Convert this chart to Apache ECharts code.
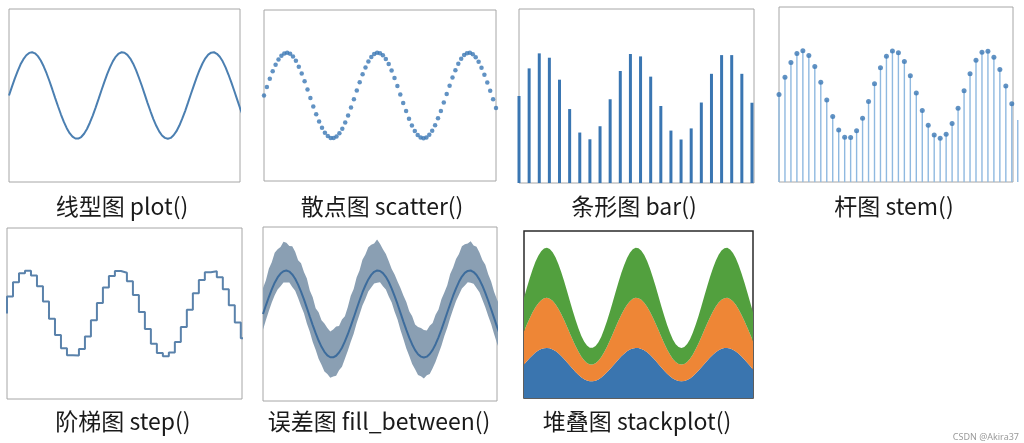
<!DOCTYPE html>
<html>
<head>
<meta charset="utf-8">
<title>常用图表类型</title>
<script src="https://cdn.jsdelivr.net/npm/echarts@6.0.0/dist/echarts.min.js"></script>
<style>
  html, body { margin: 0; padding: 0; background: #fff; }
  #chart { width: 1024px; height: 443px; }
</style>
</head>
<body>
<div id="chart"></div>
<script>
// sine wave sampled every 0.1 (plot / scatter / fill_between / stackplot)
const waveX = [0, 0.1, 0.2, 0.3, 0.4, 0.5, 0.6, 0.7, 0.8, 0.9,
  1.0, 1.1, 1.2, 1.3, 1.4, 1.5, 1.6, 1.7, 1.8, 1.9,
  2.0, 2.1, 2.2, 2.3, 2.4, 2.5, 2.6, 2.7, 2.8, 2.9,
  3.0, 3.1, 3.2, 3.3, 3.4, 3.5, 3.6, 3.7, 3.8, 3.9,
  4.0, 4.1, 4.2, 4.3, 4.4, 4.5, 4.6, 4.7, 4.8, 4.9,
  5.0, 5.1, 5.2, 5.3, 5.4, 5.5, 5.6, 5.7, 5.8, 5.9,
  6.0, 6.1, 6.2, 6.3, 6.4, 6.5, 6.6, 6.7, 6.8, 6.9,
  7.0, 7.1, 7.2, 7.3, 7.4, 7.5, 7.6, 7.7, 7.8, 7.9,
  8.0, 8.1]
const waveY = [4.00, 4.40, 4.78, 5.13, 5.44, 5.68, 5.86, 5.97, 6.00, 5.95,
  5.82, 5.62, 5.35, 5.03, 4.67, 4.28, 3.88, 3.49, 3.12, 2.78,
  2.49, 2.26, 2.10, 2.01, 2.01, 2.08, 2.23, 2.45, 2.74, 3.07,
  3.44, 3.83, 4.23, 4.62, 4.99, 5.31, 5.59, 5.80, 5.94, 6.00,
  5.98, 5.88, 5.71, 5.47, 5.17, 4.82, 4.45, 4.05, 3.65, 3.27,
  2.91, 2.60, 2.34, 2.15, 2.04, 2.00, 2.04, 2.16, 2.35, 2.61,
  2.93, 3.28, 3.67, 4.07, 4.46, 4.84, 5.18, 5.48, 5.72, 5.89,
  5.98, 6.00, 5.93, 5.79, 5.58, 5.30, 4.97, 4.61, 4.22, 3.82,
  3.42, 3.06]

// error band edges (fill_between)
const bandUpper = [5.20, 5.55, 6.08, 6.38, 6.82, 6.98, 7.08, 7.32, 7.28, 7.13,
  7.12, 6.86, 6.47, 6.33, 5.93, 5.63, 5.08, 4.77, 4.27, 4.08,
  3.71, 3.56, 3.36, 3.19, 3.29, 3.43, 3.45, 3.75, 3.90, 4.32,
  4.84, 5.15, 5.68, 6.00, 6.49, 6.73, 7.07, 7.18, 7.24, 7.42,
  7.23, 6.98, 6.76, 6.42, 6.07, 5.82, 5.50, 5.20, 4.85, 4.55,
  4.13, 3.90, 3.52, 3.40, 3.36, 3.26, 3.24, 3.46, 3.59, 3.96,
  4.21, 4.68, 4.99, 5.32, 5.84, 6.14, 6.53, 6.76, 7.12, 7.21,
  7.24, 7.35, 7.15, 7.09, 6.83, 6.48, 6.27, 5.83, 5.50, 5.02,
  4.67, 4.36]
const bandLower = [3.28, 3.72, 4.14, 4.53, 4.86, 5.13, 5.28, 5.45, 5.45, 5.45,
  5.24, 5.07, 4.73, 4.37, 4.03, 3.56, 3.18, 2.71, 2.36, 1.94,
  1.67, 1.36, 1.24, 1.07, 1.13, 1.16, 1.41, 1.57, 1.94, 2.31,
  2.72, 3.09, 3.57, 3.98, 4.39, 4.69, 5.04, 5.22, 5.40, 5.44,
  5.46, 5.28, 5.13, 4.81, 4.53, 4.10, 3.75, 3.27, 2.85, 2.41,
  2.07, 1.70, 1.46, 1.20, 1.14, 1.04, 1.18, 1.24, 1.51, 1.81,
  2.17, 2.54, 2.99, 3.37, 3.82, 4.22, 4.60, 4.88, 5.17, 5.31,
  5.46, 5.44, 5.39, 5.19, 5.00, 4.66, 4.31, 3.91, 3.54, 3.08,
  2.66, 2.26]

// bar()
const barX = [0, 0.345, 0.690, 1.034, 1.379, 1.724, 2.069, 2.414, 2.759, 3.103,
  3.448, 3.793, 4.138, 4.483, 4.828, 5.172, 5.517, 5.862, 6.207, 6.552,
  6.897, 7.241, 7.586, 7.931]
const barY = [4.00, 5.27, 5.96, 5.76, 4.75, 3.40, 2.32, 2.01, 2.61, 3.85,
  5.15, 5.93, 5.82, 4.89, 3.54, 2.41, 2.00, 2.51, 3.70, 5.02,
  5.88, 5.88, 5.02, 3.69]

// stem() and step()
const stemX = [0, 0.204, 0.408, 0.612, 0.816, 1.020, 1.224, 1.429, 1.633, 1.837,
  2.041, 2.245, 2.449, 2.653, 2.857, 3.061, 3.265, 3.469, 3.673, 3.878,
  4.082, 4.286, 4.490, 4.694, 4.898, 5.102, 5.306, 5.510, 5.714, 5.918,
  6.122, 6.327, 6.531, 6.735, 6.939, 7.143, 7.347, 7.551, 7.755, 7.959,
  8.163]
const stemY = [4.00, 4.79, 5.46, 5.88, 6.00, 5.78, 5.28, 4.56, 3.75, 2.99,
  2.38, 2.05, 2.03, 2.34, 2.92, 3.68, 4.49, 5.22, 5.75, 5.99,
  5.91, 5.51, 4.86, 4.07, 3.27, 2.59, 2.15, 2.00, 2.18, 2.67,
  3.37, 4.17, 4.95, 5.57, 5.93, 5.98, 5.70, 5.14, 4.39, 3.58,
  2.84]

// stackplot(): three equal layers
const stackBlue = waveY
const stackOrange = waveY
const stackGreen = waveY

const labels = ['线型图 plot()', '散点图 scatter()', '条形图 bar()', '杆图 stem()',
  '阶梯图 step()', '误差图 fill_between()', '堆叠图 stackplot()']

// panel boxes in pixels
const panels = [
  { left: 9, top: 9, width: 231, height: 173, cx: 122, cy: 206 },
  { left: 264, top: 10, width: 232, height: 171, cx: 382, cy: 206 },
  { left: 519, top: 9, width: 235, height: 174, cx: 634, cy: 206 },
  { left: 779, top: 7, width: 234, height: 175, cx: 894, cy: 206 },
  { left: 7, top: 228, width: 235, height: 171, cx: 123, cy: 421 },
  { left: 263, top: 227, width: 234, height: 174, cx: 379, cy: 421 },
  { left: 524, top: 231, width: 229, height: 167, cx: 637, cy: 421 }
]

function pairs(xs, ys) {
  return xs.map((x, i) => [x, ys[i]])
}

const chart = echarts.init(document.getElementById('chart'))

const grid = panels.map((p, i) => ({
  left: p.left,
  top: p.top,
  width: p.width,
  height: p.height,
  show: true,
  backgroundColor: '#fff',
  borderColor: i === 6 ? '#2a2a2a' : '#a6a6a6',
  borderWidth: i === 6 ? 1.5 : 1
}))

// panels 5 and 6 stack series, so they use a category axis on waveX (index 80 = x 8.0)
const xAxis = panels.map((p, i) => (i >= 5
  ? { type: 'category', gridIndex: i, data: waveX, boundaryGap: false, min: 0, max: 80, show: false }
  : { type: 'value', gridIndex: i, min: 0, max: 8, show: false }))
const yAxis = panels.map((p, i) => ({ type: 'value', gridIndex: i, min: 0, max: i === 6 ? 20 : 8, show: false }))

function on(i, s) {
  return Object.assign({ xAxisIndex: i, yAxisIndex: i, animation: false }, s)
}

const series = [
  on(0, {
    type: 'line', data: pairs(waveX, waveY), symbol: 'none',
    lineStyle: { width: 2, color: '#4b7fb1' }
  }),
  on(1, {
    type: 'scatter', data: pairs(waveX, waveY), symbolSize: 4.5,
    itemStyle: { color: '#3a77b4' }
  }),
  on(2, {
    type: 'bar', data: pairs(barX, barY), barWidth: 3,
    itemStyle: { color: '#3a76b2' }
  }),
  on(3, {
    type: 'bar', data: pairs(stemX, stemY), barWidth: 1.4,
    itemStyle: { color: '#8fb9e0' }
  }),
  on(3, {
    type: 'scatter', data: pairs(stemX, stemY), symbolSize: 5,
    itemStyle: { color: '#3a77b4' }
  }),
  on(4, {
    type: 'line', data: pairs(stemX, stemY), step: 'start', symbol: 'none',
    lineStyle: { width: 2, color: '#5a82ab' }
  }),
  // band = lower edge + (upper - lower), stacked
  on(5, {
    type: 'line', data: bandLower, stack: 'band', symbol: 'none',
    lineStyle: { opacity: 0 }
  }),
  on(5, {
    type: 'line', data: bandUpper.map((u, i) => u - bandLower[i]),
    stack: 'band', symbol: 'none',
    lineStyle: { opacity: 0 },
    areaStyle: { color: '#8a9fb3', opacity: 1 }
  }),
  on(5, {
    type: 'line', data: waveY, symbol: 'none',
    lineStyle: { width: 2, color: '#3d6c9c' }
  }),
  on(6, {
    type: 'line', data: stackBlue, stack: 'layers', symbol: 'none',
    lineStyle: { width: 0 }, areaStyle: { color: '#3a75af', opacity: 1 }
  }),
  on(6, {
    type: 'line', data: stackOrange, stack: 'layers', symbol: 'none',
    lineStyle: { width: 0 }, areaStyle: { color: '#ee8636', opacity: 1 }
  }),
  on(6, {
    type: 'line', data: stackGreen, stack: 'layers', symbol: 'none',
    lineStyle: { width: 0 }, areaStyle: { color: '#52a03e', opacity: 1 }
  })
]

const graphic = panels.map((p, i) => ({
  type: 'text',
  x: p.cx,
  y: p.cy,
  style: {
    text: labels[i],
    fontSize: 23,
    fontFamily: '"Noto Sans CJK SC", "Noto Sans", sans-serif',
    fill: '#1a1a1a',
    align: 'center',
    verticalAlign: 'middle'
  }
}))
graphic.push({
  type: 'text',
  x: 1019,
  y: 437,
  style: {
    text: 'CSDN @Akira37',
    fontSize: 9,
    fontFamily: '"Noto Sans", sans-serif',
    fill: '#9a9a9a',
    align: 'right',
    verticalAlign: 'middle'
  }
})

chart.setOption({
  animation: false,
  backgroundColor: '#fff',
  grid,
  xAxis,
  yAxis,
  series,
  graphic
})

window.addEventListener('resize', () => chart.resize())
</script>
</body>
</html>
